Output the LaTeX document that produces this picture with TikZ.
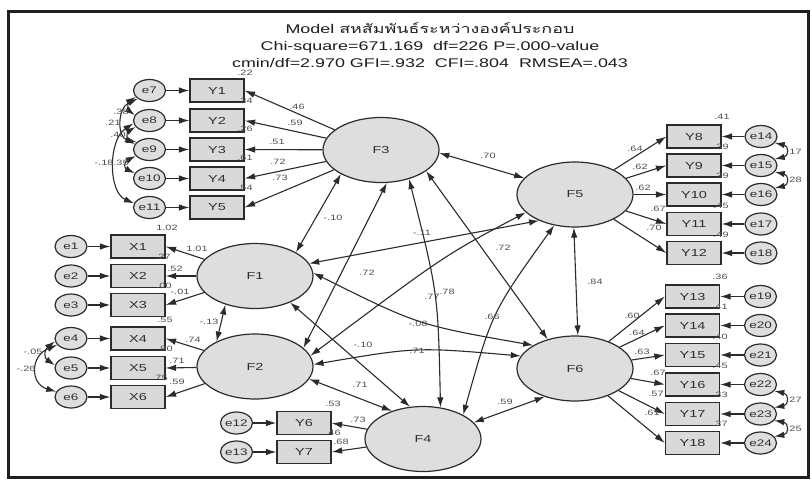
\documentclass[tikz,border=0pt]{standalone}
\usepackage{fontspec}
\setmainfont{Liberation Sans}[FakeStretch=1.42]
\newfontfamily\thaifont[Script=Thai,FakeStretch=1.42]{Loma}
\usetikzlibrary{shapes.geometric,arrows.meta}
\definecolor{lc}{HTML}{2B2B2B}
\definecolor{boxf}{HTML}{D9D9D9}
\definecolor{ellf}{HTML}{DEDEDE}
\definecolor{txt}{HTML}{2E2E2E}
\definecolor{numc}{HTML}{505050}
\definecolor{titc}{HTML}{1E1E1E}
\begin{document}
\begin{tikzpicture}[x=1pt,y=-1pt,
  obs/.style={draw=lc, fill=boxf, line width=1.2pt, minimum width=54pt, minimum height=23pt, inner sep=0pt, font=\fontsize{10.2}{12}\selectfont, text=txt},
  err/.style={ellipse, draw=lc, fill=ellf, line width=1.2pt, minimum width=32pt, minimum height=22pt, inner sep=0pt, font=\fontsize{9.5}{11}\selectfont, text=txt},
  lat/.style={ellipse, draw=lc, fill=ellf, line width=1.2pt, minimum width=116pt, minimum height=65pt, inner sep=0pt, font=\fontsize{10.2}{12}\selectfont, text=txt},
  num/.style={font=\fontsize{7.7}{9}\selectfont, text=numc, inner sep=0pt},
  arr/.style={-{Latex[length=10.5pt,width=6.5pt]}, line width=1.1pt, draw=lc},
  cov/.style={{Latex[length=10pt,width=6.5pt]}-{Latex[length=10pt,width=6.5pt]}, line width=1.1pt, draw=lc},
  ttl/.style={font=\fontsize{12.6}{15}\selectfont, text=titc, inner sep=0pt, anchor=base}
]
\useasboundingbox (0,0) rectangle (812,483);
\fill[white] (0,0) rectangle (812,483);
\draw[line width=3pt, draw=black!88] (8,11) rectangle (808,477);

% title
\node[ttl] (t1) at (430,33.5) {Model {\thaifont สหสัมพันธ์ระหว่างองค์ประกอบ}};
\node[ttl] (t2) at (430,50) {Chi-square=671.169\ \ df=226 P=.000-value};
\node[ttl] (t3) at (430,67) {cmin/df=2.970 GFI=.932\ \ CFI=.804\ \ RMSEA=.043};

% latent factors
\node[lat] (F1) at (255,276) {F1};
\node[lat] (F2) at (255,366.5) {F2};
\node[lat] (F3) at (381,150) {F3};
\node[lat] (F4) at (423,439) {F4};
\node[lat] (F5) at (575,194.5) {F5};
\node[lat] (F6) at (575,368.5) {F6};

% left Y block
\foreach \i/\y in {1/90.5,2/120.5,3/149.5,4/178.5,5/207.5}{
  \node[obs] (Y\i) at (217,\y) {Y\i};
}
\foreach \e/\i/\y in {7/1/90.5,8/2/120.5,9/3/149.5,10/4/178.5,11/5/207.5}{
  \node[err] (e\e) at (149.5,\y) {e\e};
  \draw[arr] (e\e) -- (Y\i);
  \draw[arr] (F3) -- (Y\i.east);
}
% X block
\foreach \i/\y in {1/246.5,2/276,3/305,4/338.5,5/368,6/397}{
  \node[obs] (X\i) at (138,\y) {X\i};
  \node[err] (e\i) at (71,\y) {e\i};
  \draw[arr] (e\i) -- (X\i);
}
\foreach \i in {1,2,3}{ \draw[arr] (F1) -- (X\i.east); }
\foreach \i in {4,5,6}{ \draw[arr] (F2) -- (X\i.east); }
% Y6 Y7
\node[obs] (Y6) at (304,423) {Y6};
\node[obs] (Y7) at (304,452) {Y7};
\node[err] (e12) at (236.5,423) {e12};
\node[err] (e13) at (236.5,452) {e13};
\draw[arr] (e12) -- (Y6);
\draw[arr] (e13) -- (Y7);
\draw[arr] (F4) -- (Y6.east);
\draw[arr] (F4) -- (Y7.east);
% right top
\foreach \i/\e/\y in {8/14/136.5,9/15/165.5,10/16/194.5,11/17/224,12/18/253}{
  \node[obs] (Y\i) at (694,\y) {Y\i};
  \node[err] (e\e) at (761,\y) {e\e};
  \draw[arr] (e\e) -- (Y\i);
  \draw[arr] (F5) -- (Y\i.west);
}
% right bottom
\foreach \i/\e/\y in {13/19/296.5,14/20/325.5,15/21/355,16/22/384.5,17/23/414,18/24/443}{
  \node[obs] (Y\i) at (692.5,\y) {Y\i};
  \node[err] (e\e) at (760.5,\y) {e\e};
  \draw[arr] (e\e) -- (Y\i);
  \draw[arr] (F6) -- (Y\i.west);
}

% error covariances left
\draw[cov] (e7.205) .. controls (128,102) and (128,110) .. (e8.160);
\draw[cov] (e7.215) .. controls (117,108) and (117,138) .. (e9.150);
\draw[cov] (e8.205) .. controls (127,132) and (127,140) .. (e9.160);
\draw[cov] (e9.205) .. controls (124,162) and (124,168) .. (e10.160);
\draw[cov] (e8.190) .. controls (108,140) and (108,192) .. (e11.165);
\draw[cov] (e4.190) .. controls (44,350) and (44,358) .. (e5.170);
\draw[cov] (e4.205) .. controls (30,356) and (30,384) .. (e6.160);
% error covariances right
\draw[cov] (e14.-25) .. controls (789,146) and (789,156) .. (e15.25);
\draw[cov] (e15.-25) .. controls (789,175) and (789,185) .. (e16.25);
\draw[cov] (e22.-25) .. controls (789,394) and (789,405) .. (e23.25);
\draw[cov] (e23.-25) .. controls (789,423) and (789,434) .. (e24.25);

% factor correlations
\draw[cov] (F3.211) -- (F1.30);
\draw[cov] (F3.280) -- (F2.21);
\draw[cov] (F3.314) .. controls (438,293) .. (F4.61);
\draw[cov] (F3.335) -- (F6.133);
\draw[cov] (F3.357) -- (F5.162);
\draw[cov] (F5.216) -- (F1.13);
\draw[cov] (F5.200) .. controls (445,255) .. (F2.11);
\draw[cov] (F5.236) .. controls (492,312) .. (F4.31);
\draw[cov] (F5.268) -- (F6.85);
\draw[cov] (F1.3) .. controls (418,325) .. (F6.151);
\draw[cov] (F2.2) .. controls (416,347) .. (F6.167);
\draw[cov] (F1.323) -- (F4.112);
\draw[cov] (F2.347) -- (F4.138);
\draw[cov] (F4.18) -- (F6.223);
\draw[cov] (F1.224) -- (F2.147);

% R2 values
\node[num] (r1) at (245,73) {.22};
\node[num] (r2) at (245,101) {.34};
\node[num] (r3) at (245,129) {.26};
\node[num] (r4) at (245,158) {.61};
\node[num] (r5) at (245,188) {.54};
\node[num] (rx1) at (167,228) {1.02};
\node[num] (rx2) at (163,257) {.27};
\node[num] (rx3) at (164,286) {.00};
\node[num] (rx4) at (165,320) {.55};
\node[num] (rx5) at (165,349) {.90};
\node[num] (rx6) at (160,378) {.75};
\node[num] (r6) at (333,404) {.53};
\node[num] (r7) at (333,433) {.46};
\node[num] (r8) at (722,117) {.41};
\node[num] (r9) at (721,147) {.39};
\node[num] (r10) at (721,176) {.39};
\node[num] (r11) at (721,206) {.45};
\node[num] (r12) at (721,235) {.49};
\node[num] (r13) at (720,277) {.36};
\node[num] (r14) at (720,307) {.41};
\node[num] (r15) at (720,337) {.40};
\node[num] (r16) at (720,366) {.45};
\node[num] (r17) at (720,395) {.33};
\node[num] (r18) at (720,424) {.37};

% loadings
\node[num] (l1) at (297,107) {.46};
\node[num] (l2) at (295,123) {.59};
\node[num] (l3) at (277,142) {.51};
\node[num] (l4) at (278,162) {.72};
\node[num] (l5) at (280,178) {.73};
\node[num] (lx1) at (197,249) {1.01};
\node[num] (lx2) at (175,269) {.52};
\node[num] (lx3) at (180,292) {-.01};
\node[num] (lx4) at (193,340) {.74};
\node[num] (lx5) at (177,361) {.71};
\node[num] (lx6) at (177,382) {.59};
\node[num] (l6) at (358,420) {.73};
\node[num] (l7) at (341,442) {.68};
\node[num] (l8) at (635,149) {.64};
\node[num] (l9) at (640,167) {.62};
\node[num] (l10) at (643,188) {.62};
\node[num] (l11) at (658,209) {.67};
\node[num] (l12) at (654,228) {.70};
\node[num] (l13) at (632,316) {.60};
\node[num] (l14) at (637,333) {.64};
\node[num] (l15) at (642,352) {.63};
\node[num] (l16) at (658,373) {.67};
\node[num] (l17) at (656,394) {.57};
\node[num] (l18) at (652,413) {.61};

% covariance labels
\node[num] (c1) at (121,112) {.38};
\node[num] (c2) at (113,123) {.21};
\node[num] (c3) at (118,135) {.40};
\node[num] (c4) at (104,163) {-.18};
\node[num] (c5) at (121,163) {.35};
\node[num] (c6) at (33,352) {-.05};
\node[num] (c7) at (26,369) {-.26};
\node[num] (c8) at (794,152) {.17};
\node[num] (c9) at (794,180) {.28};
\node[num] (c10) at (794,400) {.27};
\node[num] (c11) at (794,429) {.25};

% correlation labels
\node[num] (k1) at (488,156) {.70};
\node[num] (k2) at (333,218) {-.10};
\node[num] (k3) at (422,233) {-.11};
\node[num] (k4) at (367,273) {.72};
\node[num] (k5) at (503,248) {.72};
\node[num] (k6) at (432,297) {.77};
\node[num] (k7) at (447,292) {.78};
\node[num] (k8) at (492,317) {.66};
\node[num] (k9) at (418,324) {-.08};
\node[num] (k10) at (363,345) {-.10};
\node[num] (k11) at (417,351) {.71};
\node[num] (k12) at (360,385) {.71};
\node[num] (k13) at (505,402) {.59};
\node[num] (k14) at (595,282) {.84};
\node[num] (k15) at (209,322) {-.13};
\end{tikzpicture}
\end{document}
